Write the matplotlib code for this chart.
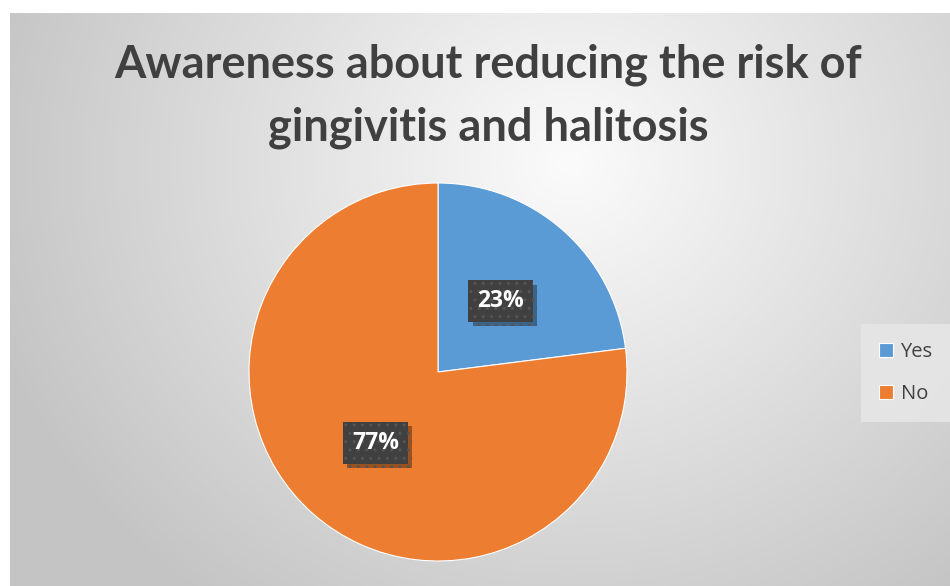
import numpy as np
import matplotlib
matplotlib.use("Agg")
from matplotlib import pyplot as plt
from matplotlib import patheffects as pe

# data
labels = ["Yes", "No"]
values = [23, 77]
colors = ["#5B9BD5", "#ED7D31"]
title_lines = ["Awareness about reducing the risk of", "gingivitis and halitosis"]

W, H = 950, 586
fig = plt.figure(figsize=(W / 100, H / 100), dpi=100)
fig.patch.set_facecolor("white")

# chart area background (radial gradient, light near top centre)
bg = fig.add_axes([10 / W, 0, 940 / W, 573 / H])
bg.set_axis_off()
yy, xx = np.mgrid[0:573, 0:940]
d = np.sqrt(((xx - 560) / 620.0) ** 2 + ((yy - 150) / 560.0) ** 2)
shade = np.clip(0.985 - 0.22 * d, 0.77, 0.985)
bg.imshow(np.dstack([shade] * 3), aspect="auto", interpolation="bilinear")

# pie
r = 189
cx, cy = 438, 372
ax = fig.add_axes([(cx - r) / W, (H - cy - r) / H, 2 * r / W, 2 * r / H])
wedges, texts, autotexts = ax.pie(
    values, colors=colors, startangle=90, counterclock=False,
    autopct="%d%%", pctdistance=0.5, radius=1,
    wedgeprops=dict(edgecolor="white", linewidth=0.8),
    textprops=dict(color="white", fontsize=16.5, fontweight="bold",
                   family=["Open Sans", "DejaVu Sans"]))
ax.set_xlim(-1, 1)
ax.set_ylim(-1, 1)
ax.set_aspect("equal")
for t in autotexts:
    t.set_bbox(dict(boxstyle="square,pad=0.38", facecolor="#404040",
                    edgecolor="#555555", linewidth=0, hatch=".."))
    t.get_bbox_patch().set_path_effects(
        [pe.SimplePatchShadow(offset=(3, -3), shadow_rgbFace="black", alpha=0.35),
         pe.Normal()])

for line, ypx in zip(title_lines, [65, 128]):
    fig.text(488 / W, 1 - ypx / H, line, ha="center", va="center",
             fontsize=32.5, fontweight="bold", color="#404040",
             family=["Lato", "DejaVu Sans"])

leg = fig.legend(wedges, labels, loc="center", bbox_to_anchor=(906 / W, 1 - 373 / H),
                 frameon=True, fancybox=False, handlelength=0.7,
                 handleheight=0.7, labelspacing=1.1, borderpad=0.9,
                 handletextpad=0.35, labelcolor="#404040",
                 prop=dict(family=["Open Sans", "DejaVu Sans"], size=14.5))
leg.get_frame().set_facecolor("#e6e6e6")
leg.get_frame().set_edgecolor("none")
leg.get_frame().set_alpha(0.9)

fig.savefig("out.png", dpi=100)
